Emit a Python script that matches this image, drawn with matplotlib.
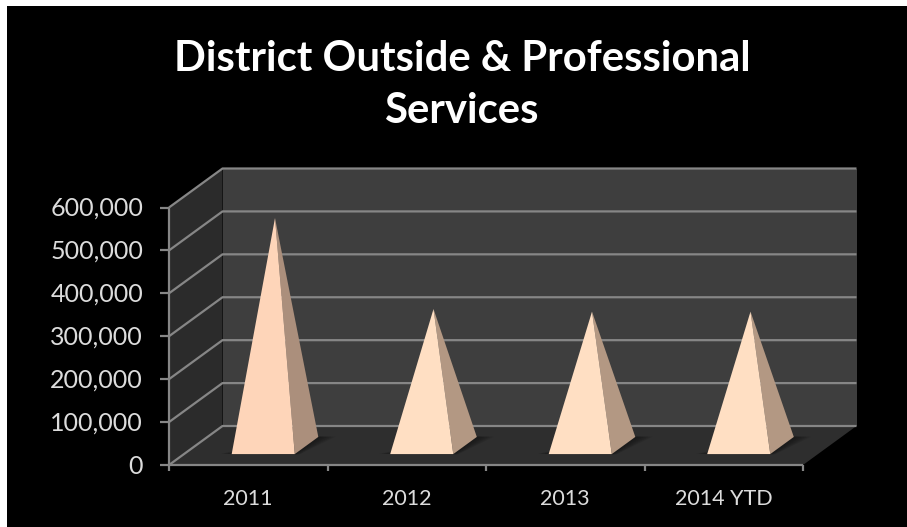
import matplotlib
matplotlib.use("Agg")
import matplotlib.pyplot as plt
from matplotlib.patches import Polygon, Rectangle

categories = ["2011", "2012", "2013", "2014 YTD"]
values = [530000, 318000, 312000, 312000]
y_ticks = [0, 100000, 200000, 300000, 400000, 500000, 600000]

W, H = 907, 527
FRONT_L, FRONT_R, FRONT_B, FRONT_T = 169, 803, 465, 207.5
DEPTH_X_PX, DEPTH_Y_PX = 53.5, 39

fig = plt.figure(figsize=(W / 100, H / 100), dpi=100, facecolor="white")
fig.patches.append(Rectangle((7 / W, 0), 1 - 7 / W, 1 - 6 / H, transform=fig.transFigure,
                             facecolor="black", edgecolor="none", zorder=-5))

# The axes rectangle is the front plane of the 3D box
ax = fig.add_axes([FRONT_L / W, 1 - FRONT_B / H, (FRONT_R - FRONT_L) / W, (FRONT_B - FRONT_T) / H])
ax.set_xlim(0, len(categories))
ax.set_ylim(0, 600000)
ax.patch.set_alpha(0)
for s in ax.spines.values():
    s.set_visible(False)

dx = DEPTH_X_PX / (FRONT_R - FRONT_L) * len(categories)
dy = DEPTH_Y_PX / (FRONT_B - FRONT_T) * 600000
ymax = y_ticks[-1]
nx = len(categories)

GRID = "#868686"


def poly(points, **kw):
    p = Polygon(points, clip_on=False, **kw)
    ax.add_patch(p)
    return p


def seg(xs, ys, z=3, lw=1.6, color=GRID):
    ax.plot(xs, ys, color=color, lw=lw, clip_on=False, zorder=z, solid_capstyle="butt")


def depth(x, y, d):
    return (x + dx * d, y + dy * d)


# Walls and floor
poly([(dx, dy), (nx + dx, dy), (nx + dx, ymax + dy), (dx, ymax + dy)], facecolor="#3e3e3e", zorder=1)
poly([(0, 0), (dx, dy), (dx, ymax + dy), (0, ymax)], facecolor="#2b2b2b", zorder=1)
poly([(0, 0), (nx, 0), (nx + dx, dy), (dx, dy)], facecolor="#2e2e2e", zorder=1)

# Gridlines run along the back wall and down the side wall
for t in y_ticks:
    seg([0, dx, nx + dx], [t, t + dy, t + dy], z=2)
seg([0, 0], [0, ymax])
seg([0, nx], [0, 0])

# Tick marks
tick_y = -14000
for i in range(nx + 1):
    seg([i, i], [tick_y, 0])
for t in y_ticks:
    seg([-9 / (FRONT_R - FRONT_L) * nx, 0], [t, t])

# Pyramids
HALF_W = 0.199
D0, D1 = 0.28, 0.72
FRONT_COLORS = ["#fed5b9", "#ffdfc3", "#ffdfc3", "#ffdfc3"]
SIDE_COLORS = ["#ab8f7c", "#b39883", "#b39883", "#b39883"]

for i, v in enumerate(values):
    c = i + 0.5
    fl = depth(c - HALF_W, 0, D0)
    fr = depth(c + HALF_W, 0, D0)
    br = depth(c + HALF_W, 0, D1)
    apex = depth(c, v, 0.5)
    # Soft contact shadow hugging the base of the pyramid
    for k in range(7):
        g = 0.011 * (7 - k)
        poly([(fl[0] - g * 0.9, fl[1] + 500),
              (fl[0] + 0.02, fl[1] + 500 + g * 90000),
              (br[0] - 0.1, br[1] + g * 18000),
              (br[0] + g * 1.4, br[1] + g * 6000),
              (fr[0] + g * 0.4, fr[1] - g * 3000)],
             facecolor="#161616", edgecolor="none", alpha=0.16, zorder=3)
    poly([fr, br, apex], facecolor=SIDE_COLORS[i], edgecolor="none", zorder=4)
    poly([fl, fr, apex], facecolor=FRONT_COLORS[i], edgecolor="none", zorder=5)

# Axis labels
ax.set_xticks([])
ax.set_yticks([])
TEXT = "#dcdcdc"
for i, name in enumerate(categories):
    ax.annotate(name, (i + 0.5, 0), xytext=(0, -34), textcoords="offset pixels", ha="center", va="center",
                color=TEXT, fontsize=15.5, family="Lato", annotation_clip=False)
for t in y_ticks:
    ax.annotate(f"{t:,}", (0, t), xytext=(-26, -1), textcoords="offset pixels", ha="right", va="center",
                color=TEXT, fontsize=18, family="Lato", annotation_clip=False)

fig.text(462.5 / W, 1 - 59 / H, "District Outside & Professional", ha="center", va="center",
         color="white", fontsize=30.2, fontweight="bold", family="Lato")
fig.text(462.5 / W, 1 - 111 / H, "Services", ha="center", va="center",
         color="white", fontsize=30.2, fontweight="bold", family="Lato")

fig.savefig("out.png", dpi=100, facecolor=fig.get_facecolor())
